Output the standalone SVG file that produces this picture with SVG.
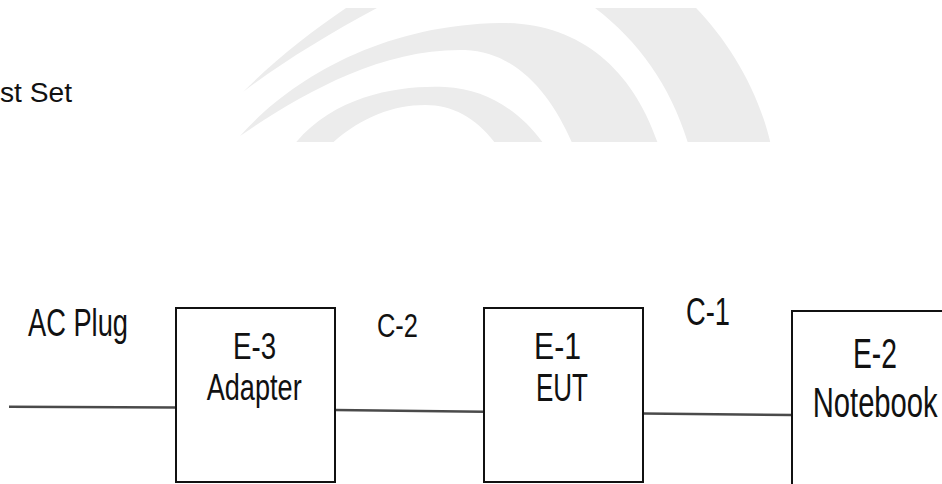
<svg xmlns="http://www.w3.org/2000/svg" width="942" height="484" viewBox="0 0 942 484">
  <style>
    .lbl { font-family: "Liberation Sans", Arial, sans-serif; fill: #111; }
    .box { fill: #fff; stroke: #111; stroke-width: 2; }
    .wire { stroke: #4a4a4a; stroke-width: 2.5; fill: none; }
    .wm { fill: #ececec; }
  </style>
  <defs>
    <clipPath id="wmclip"><rect x="0" y="8" width="942" height="134"/></clipPath>
  </defs>
  <rect x="0" y="0" width="942" height="484" fill="#fff"/>

  <g id="watermark" clip-path="url(#wmclip)">
    <path class="wm" d="M243,92 C280,55 320,25 358,0 L392,0 C335,30 285,60 243,92 Z"/>
    <path class="wm" d="M240,136 C290,80 380,25 500,23 C580,22 635,70 660,150 L575,150 C555,100 520,52 465,50 C380,48 300,95 240,136 Z"/>
    <path class="wm" d="M290,150 C330,95 400,85 445,87 C490,89 525,115 548,150 L500,150 C480,120 455,105 425,105 C390,105 355,120 325,150 Z"/>
    <path class="wm" d="M584,0 L688,0 C725,35 760,90 772,150 L690,150 C672,85 635,35 584,0 Z"/>
  </g>

  <g id="title">
    <text class="lbl" x="0" y="101.7" font-size="27" textLength="72" lengthAdjust="spacingAndGlyphs">st Set</text>
  </g>

  <g id="connectors">
    <line id="ac-plug" class="wire" x1="9" y1="406.7" x2="176" y2="407.5"/>
    <line id="c-2" class="wire" x1="335" y1="410" x2="484" y2="411.8"/>
    <line id="c-1" class="wire" x1="643" y1="413.5" x2="792" y2="415"/>
  </g>

  <g id="label-ac-plug">
    <text class="lbl" x="28" y="335.5" font-size="38" textLength="100" lengthAdjust="spacingAndGlyphs">AC Plug</text>
  </g>
  <g id="label-c2">
    <text class="lbl" x="377" y="336.7" font-size="33" textLength="41" lengthAdjust="spacingAndGlyphs">C-2</text>
  </g>
  <g id="label-c1">
    <text class="lbl" x="686" y="325" font-size="39" textLength="44" lengthAdjust="spacingAndGlyphs">C-1</text>
  </g>

  <g id="node-e3">
    <rect class="box" x="176" y="308" width="159" height="174"/>
    <text class="lbl" x="233" y="359" font-size="36" textLength="43" lengthAdjust="spacingAndGlyphs">E-3</text>
    <text class="lbl" x="206.7" y="400" font-size="36" textLength="95" lengthAdjust="spacingAndGlyphs">Adapter</text>
  </g>

  <g id="node-e1">
    <rect class="box" x="484" y="308" width="159" height="174"/>
    <text class="lbl" x="534" y="359" font-size="36" textLength="47" lengthAdjust="spacingAndGlyphs">E-1</text>
    <text class="lbl" x="536" y="401" font-size="38" textLength="52" lengthAdjust="spacingAndGlyphs">EUT</text>
  </g>

  <g id="node-e2">
    <rect class="box" x="792" y="311" width="170" height="176"/>
    <text class="lbl" x="853" y="368.3" font-size="42" textLength="44" lengthAdjust="spacingAndGlyphs">E-2</text>
    <text class="lbl" x="812.7" y="416.7" font-size="42" textLength="125" lengthAdjust="spacingAndGlyphs">Notebook</text>
  </g>
</svg>
